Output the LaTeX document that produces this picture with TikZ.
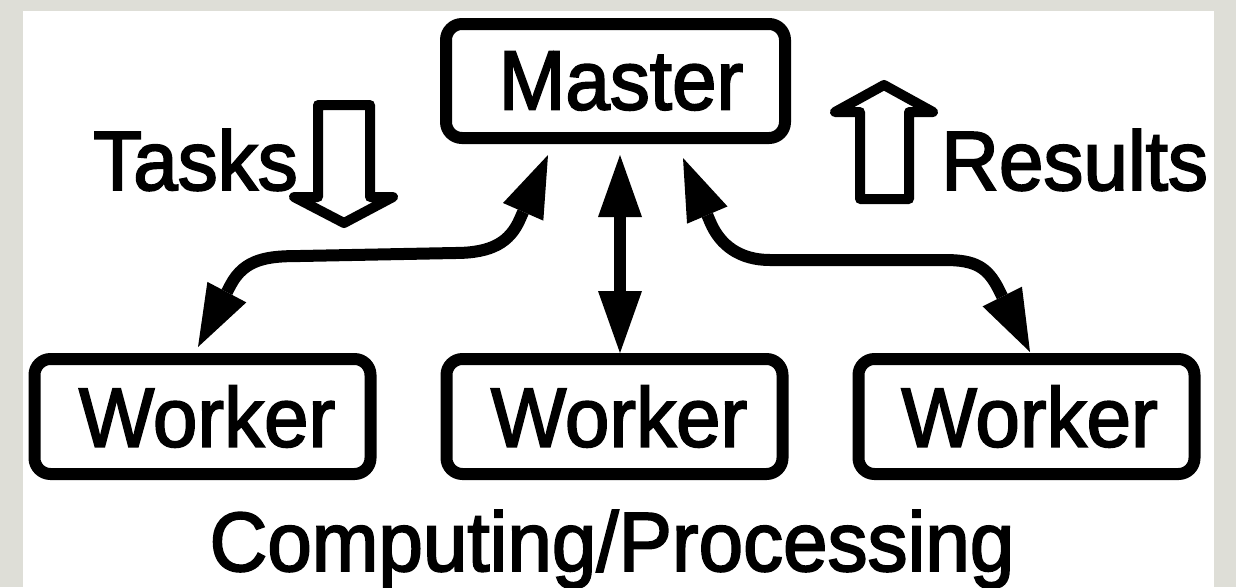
\documentclass[tikz,border=0pt]{standalone}
\usepackage{graphicx}
\usepackage{fontspec}
\setmainfont{Liberation Sans}
\newfontfamily\diagfam{Liberation Sans}[FakeBold=2.3]
\usetikzlibrary{arrows.meta,calc}
\definecolor{bggray}{RGB}{222,222,215}
\newcommand\diagfont{\diagfam\fontsize{80pt}{80pt}\selectfont}
\newcommand\vstretch[1]{\scalebox{1}[1.05]{#1}}
\begin{document}
\begin{tikzpicture}[x=1pt,y=-1pt,
  box/.style={draw=black, line width=12pt, rounded corners=16pt, inner sep=0pt,
              minimum width=336pt, minimum height=115pt, font=\diagfont},
  lbl/.style={inner sep=0pt, font=\diagfont},
  link/.style={line width=12pt,
     {Triangle[length=62pt,width=44pt,line width=0pt]}-{Triangle[length=62pt,width=44pt,line width=0pt]}},
  hollow/.style={draw=black, line width=10pt, line join=round}
]
% background
\fill[bggray] (0,0) rectangle (1236,587);
\fill[white] (23,11) rectangle (1214,587);
\useasboundingbox (0,0) rectangle (1236,587);

% boxes
\node[box, minimum width=339pt, minimum height=114pt] (m) at (615.5,81) {\hspace*{11pt}\vstretch{Master}};
\node[box] (w1) at (202.5,416.5) {\hspace*{9pt}\vstretch{Worker}};
\node[box] (w2) at (614.5,416.5) {\hspace*{9pt}\vstretch{Worker}};
\node[box] (w3) at (1026.5,416.5) {\hspace*{6pt}\vstretch{Worker}};

% labels
\node[lbl, anchor=base west] (tasks) at (93,190) {\vstretch{Tasks}};
\node[lbl, anchor=base west] (results) at (941,190) {\vstretch{Results}};
\node[lbl, anchor=base] (cp) at (612,571) {\vstretch{Computing/Processing}};

% hollow block arrows
\draw[hollow] (318,105) -- (370,105) -- (370,197) -- (393,197) -- (344,223)
   -- (294,197) -- (318,197) -- cycle;
\draw[hollow] (860,199) -- (909,199) -- (909,112) -- (933,112) -- (884,85)
   -- (835,112) -- (860,112) -- cycle;

% connectors
\draw[link] ($(m.south)+(4.5,11)$) -- ($(w2.north)+(5.5,0)$);
\draw[link] ($(w1.north)+(-4.5,-6)$) -- ++(32.6,-62)
   .. controls +(14,-26.5) and (268,256) .. (300,256) -- (455,253)
   .. controls (492,253) and (510,242) .. (520,219)
   -- ($(m.south)+(-67.5,11)$);
\draw[link] ($(m.south)+(67.5,14)$) -- (710.4,222.4)
   .. controls (720.2,245.4) and (740,260) .. (770,260) -- (945,260)
   .. controls (975,260) and (987.5,267) .. (998.7,289.4)
   -- ($(w3.north)+(3.5,-1)$);
\end{tikzpicture}
\end{document}
